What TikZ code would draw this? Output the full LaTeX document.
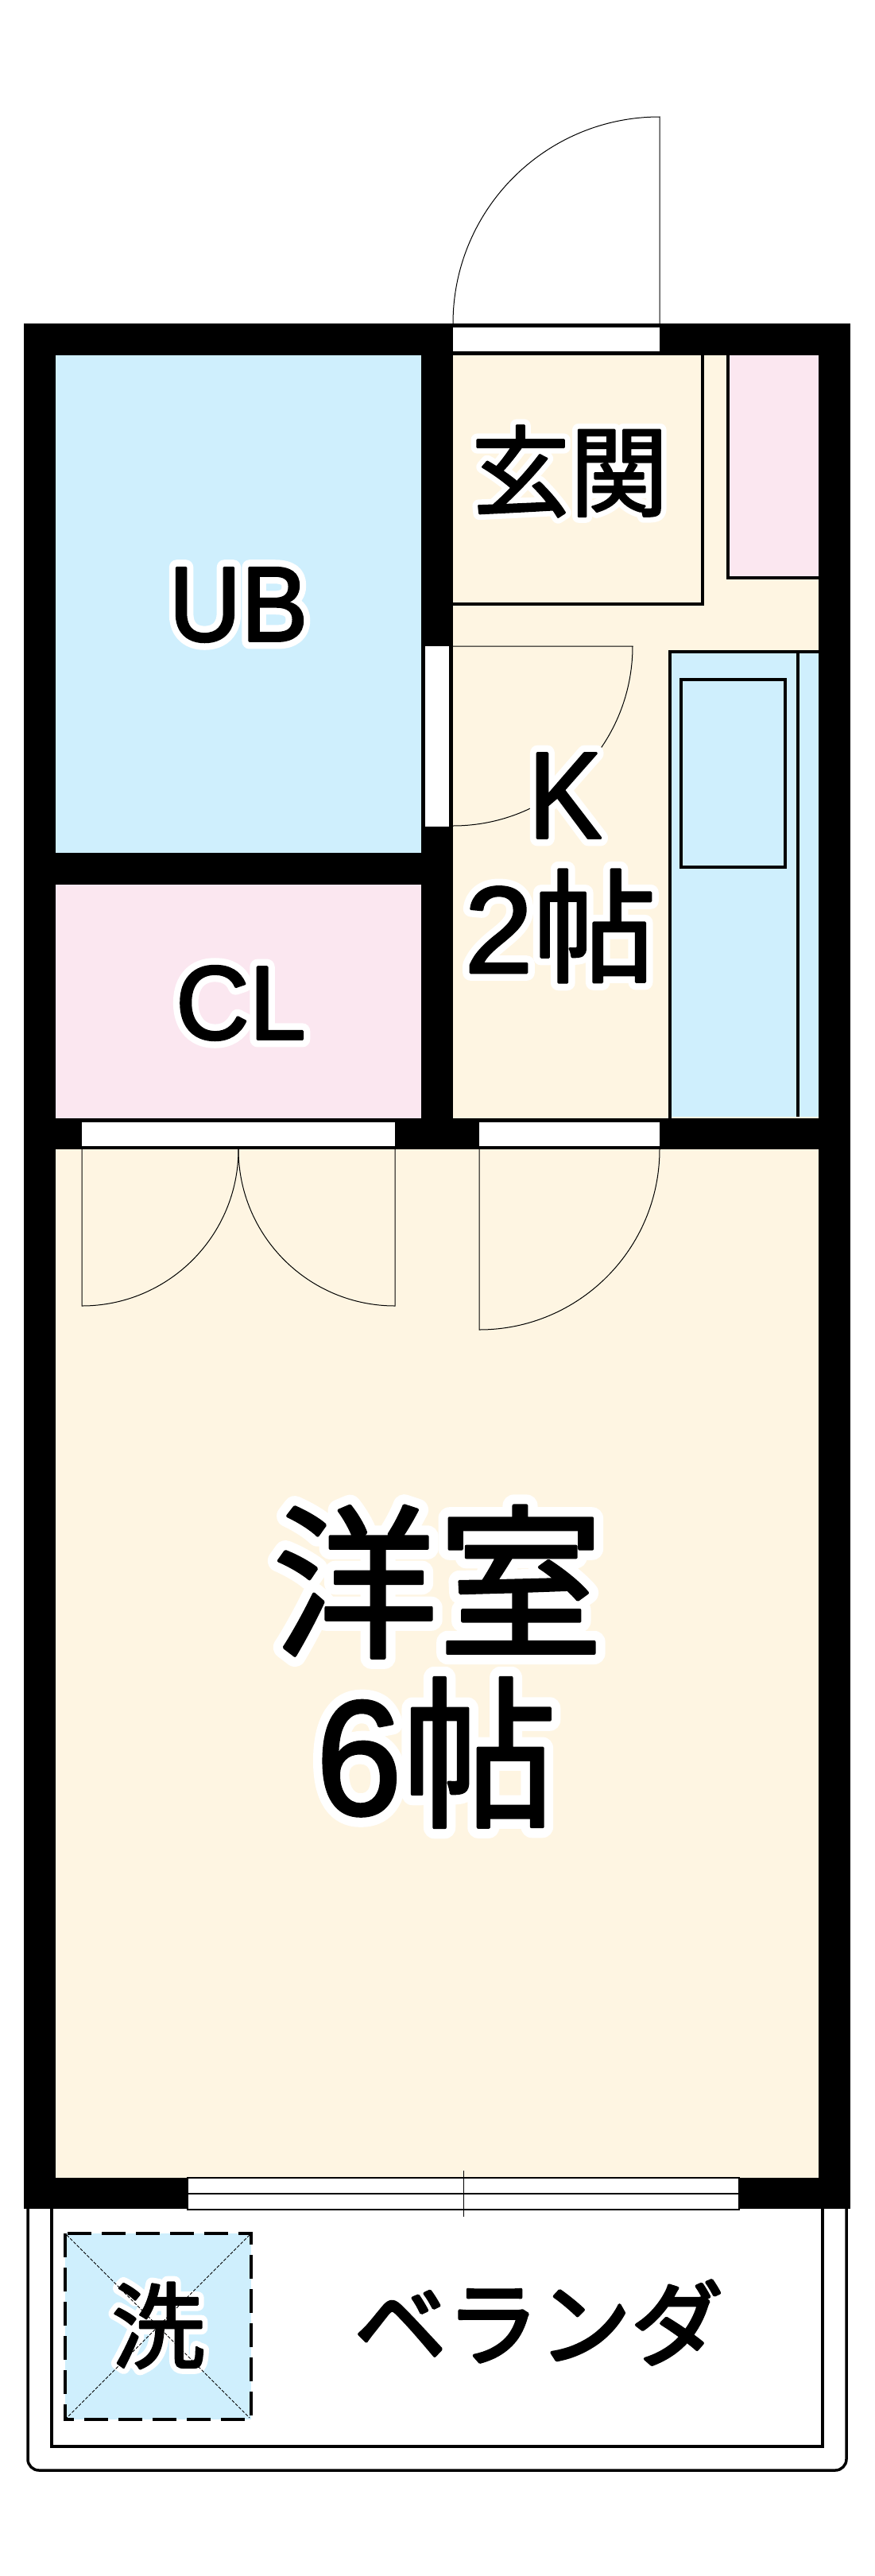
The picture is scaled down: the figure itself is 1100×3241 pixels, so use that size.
\documentclass[tikz,border=0pt]{standalone}
\usepackage{fontspec}
\setmainfont{Liberation Sans}
\newfontfamily\jp{Noto Sans CJK JP}
\newcommand{\strokedtext}[4]{\special{pdf:code q #1 Tr #2 RG #3 w 1 J 1 j}#4\special{pdf:code 0 Tr Q}}
\tikzset{
  wall/.style={fill=black,draw=none},
  opening/.style={fill=white,draw=none},
  thinl/.style={draw=black,line width=1pt},
  medl/.style={draw=black,line width=3.5pt},
  halo/.style={text=white,inner sep=0pt,anchor=center,align=center,transform shape},
  lab/.style={text=black,inner sep=0pt,anchor=center,align=center,transform shape},
}
\definecolor{beigec}{HTML}{FEF5E2}
\definecolor{bluec}{HTML}{CFEFFD}
\definecolor{pinkc}{HTML}{FBE7F0}
% name, x, y, size, xscale, halo width, black stroke width is separate
\newcommand{\halolbl}[7]{%
  \node[halo,xscale=#5] (#1h) at (#2,#3) {\fontsize{#4}{#4}\selectfont\strokedtext{1}{1 1 1}{#6}{#7}};
}
\newcommand{\blacklbl}[7]{%
  \node[lab,xscale=#5] (#1) at (#2,#3) {\fontsize{#4}{#4}\selectfont\strokedtext{2}{0 0 0}{#6}{#7}};
}
\begin{document}
\begin{tikzpicture}[x=1pt,y=-1pt]
\useasboundingbox (0,0) rectangle (1100,3241);
\fill[white] (0,0) rectangle (1100,3241);
% balcony
\draw[medl,rounded corners=14pt] (35,2779) -- (35,3108) -- (1065,3108) -- (1065,2779);
\draw[medl] (65,2779) -- (65,3078) -- (1035,3078) -- (1035,2779);
% walls
\fill[wall] (30,407) rectangle (1070,2779);
% rooms
\fill[bluec] (70,447) rectangle (530,1073);
\fill[pinkc] (70,1113) rectangle (530,1407);
\fill[beigec] (570,447) rectangle (1030,1407);
\fill[beigec] (70,1446) rectangle (1030,2740);
% genkan step and shoe box
\fill[pinkc] (916,447) rectangle (1030,727);
\draw[medl] (570,760) -- (884,760) -- (884,447);
\draw[medl] (916,447) -- (916,727) -- (1030,727);
% kitchen
\fill[bluec] (843,820) rectangle (1030,1405);
\draw[medl] (1030,820) -- (843,820) -- (843,1407);
\draw[medl] (1004,820) -- (1004,1405);
\draw[medl] (857,855) rectangle (988,1091);
% openings
\fill[opening] (570,412) rectangle (830,442);
\fill[opening] (535,813) rectangle (565,1040);
\fill[opening] (103,1412) rectangle (497,1442);
\fill[opening] (603,1412) rectangle (830,1442);
% entry door
\draw[thinl] (830,407) -- (830,147) arc[start angle=-90,end angle=-180,radius=260];
% bath door
\draw[thinl] (570,813) -- (796,813) arc[start angle=0,end angle=90,radius=226];
% closet doors
\draw[thinl] (103,1446) -- (103,1643) arc[start angle=90,end angle=0,radius=197];
\draw[thinl] (497,1446) -- (497,1643) arc[start angle=90,end angle=180,radius=197];
% room door
\draw[thinl] (603,1446) -- (603,1673) arc[start angle=90,end angle=0,radius=227];
% window
\draw[medl,line width=2.5pt,fill=white] (236,2740) rectangle (930,2780);
\draw[draw=black,line width=1.5pt] (236,2760) -- (930,2760);
\draw[thinl] (583,2731) -- (583,2789);
% laundry
\fill[bluec] (82,2810) rectangle (316,3044);
\draw[draw=black,line width=3.5pt,dash pattern=on 30pt off 13pt] (82,2810) rectangle (316,3044);
% halos
\halolbl{ubh}{300}{761}{134}{0.94}{20}{UB}
\halolbl{clh}{303}{1262}{132}{0.97}{20}{CL}
\halolbl{gkh}{717}{593}{124}{1}{16}{\jp 玄関}
\halolbl{kkh}{711}{1001}{155}{0.9}{20}{K}
\halolbl{twoh}{705}{1165}{155}{1}{20}{2\jp 帖}
\halolbl{yoh}{551}{1990}{208}{1}{28}{\jp 洋室}
\halolbl{sixh}{549}{2205}{205}{0.95}{28}{6\jp 帖}
\halolbl{wah}{199}{2926}{118}{1}{16}{\jp 洗}
% laundry diagonals
\draw[draw=black,line width=0.8pt,dash pattern=on 4pt off 2pt] (84,2812) -- (314,3042);
\draw[draw=black,line width=0.8pt,dash pattern=on 4pt off 2pt] (314,2812) -- (84,3042);
% labels
\blacklbl{ub}{300}{761}{134}{0.94}{3}{UB}
\blacklbl{cl}{303}{1262}{132}{0.97}{3}{CL}
\blacklbl{gk}{717}{593}{124}{1}{2.5}{\jp 玄関}
\blacklbl{kk}{711}{1001}{155}{0.9}{3}{K}
\blacklbl{two}{705}{1165}{155}{1}{3}{2\jp 帖}
\blacklbl{yo}{551}{1990}{208}{1}{4}{\jp 洋室}
\blacklbl{six}{549}{2205}{205}{0.95}{4}{6\jp 帖}
\blacklbl{wa}{199}{2926}{118}{1}{2.5}{\jp 洗}
\blacklbl{ver}{678}{2922}{116}{1}{4}{\jp ベランダ}
\end{tikzpicture}
\end{document}
